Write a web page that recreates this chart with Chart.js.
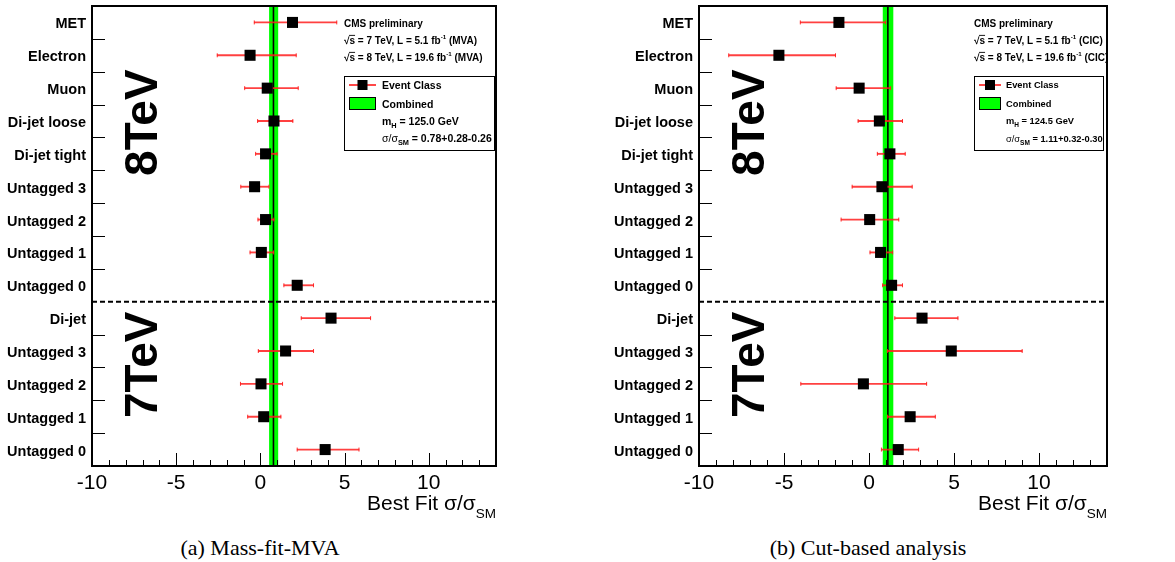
<!DOCTYPE html>
<html>
<head>
<meta charset="utf-8">
<script src="https://cdn.jsdelivr.net/npm/chart.js@4"></script>
<style>
body { margin: 0; background: #fff; width: 1175px; height: 562px; position: relative; overflow: hidden; }
.painel { position: absolute; top: 0; height: 522px; }
.legenda { position: absolute; top: 537px; font-family: "Liberation Serif"; font-size: 22px; line-height: 22px; text-align: center; color: #000; }
</style>
</head>
<body>
<div class="painel" style="left:0; width:500px"><canvas id="mva"></canvas></div>
<div class="painel" style="left:590px; width:522px"><canvas id="cic"></canvas></div>
<div class="legenda" style="left:110px; width:300px">(a) Mass-fit-MVA</div>
<div class="legenda" style="left:718px; width:300px">(b) Cut-based analysis</div>
<script>
// Dados
var categorias = ['MET', 'Electron', 'Muon', 'Di-jet loose', 'Di-jet tight', 'Untagged 3', 'Untagged 2', 'Untagged 1', 'Untagged 0',
                  'Di-jet', 'Untagged 3', 'Untagged 2', 'Untagged 1', 'Untagged 0'];
var xTicks = [-10, -5, 0, 5, 10];

// (a) Mass-fit-MVA
var mvaValor = [1.91, -0.61, 0.41, 0.81, 0.31, -0.34, 0.31, 0.06, 2.19, 4.20, 1.50, 0.04, 0.20, 3.85];
var mvaMin   = [-0.36, -2.56, -0.93, -0.16, -0.28, -1.16, -0.14, -0.61, 1.40, 2.43, -0.12, -1.18, -0.75, 2.19];
var mvaMax   = [4.54, 2.13, 2.25, 1.93, 0.99, 0.51, 0.81, 0.79, 3.16, 6.55, 3.16, 1.32, 1.22, 5.86];
var mvaComb  = [0.78, 0.28, 0.26];

// (b) Cut-based analysis
var cicValor = [-1.77, -5.30, -0.58, 0.61, 1.23, 0.76, 0.04, 0.68, 1.33, 3.12, 4.84, -0.33, 2.42, 1.72];
var cicMin   = [-4.04, -8.25, -1.93, -0.64, 0.49, -0.99, -1.64, 0.06, 0.80, 1.52, 1.08, -4.01, 1.09, 0.73];
var cicMax   = [0.98, -1.97, 1.27, 1.97, 2.13, 2.54, 1.75, 1.39, 1.97, 5.23, 9.01, 3.39, 3.90, 2.92];
var cicComb  = [1.11, 0.32, 0.30];

Chart.defaults.font.family = '"Liberation Sans", Arial, sans-serif';
Chart.defaults.color = '#000';

function linha(ctx, x1, y1, x2, y2) {
    ctx.beginPath();
    ctx.moveTo(x1, y1);
    ctx.lineTo(x2, y2);
    ctx.stroke();
}

// texto com sub/sobrescritos
function texto(ctx, x, y, partes, tam) {
    partes.forEach(function (pt) {
        var s = pt.s || 1;
        ctx.font = (pt.n ? '' : 'bold ') + (tam * s) + 'px "Liberation Sans"';
        ctx.fillText(pt.t, x, y + (pt.dy || 0) * tam);
        var w = ctx.measureText(pt.t).width;
        if (pt.barra) {
            ctx.lineWidth = 0.9;
            linha(ctx, x - 0.5, y - 0.82 * tam, x + w, y - 0.82 * tam);
        }
        x += w;
    });
    return x;
}

function moldura(p) {
    return {
        id: 'moldura',
        beforeDatasetsDraw: function (chart) {
            var ctx = chart.ctx, a = chart.chartArea, x = chart.scales.x;
            var c = p.comb;
            var x1 = x.getPixelForValue(c[0] - c[2]), x2 = x.getPixelForValue(c[0] + c[1]);
            ctx.save();
            ctx.fillStyle = '#00ff00';
            ctx.fillRect(x1, a.top, x2 - x1, a.bottom - a.top);
            ctx.strokeStyle = '#000';
            ctx.lineWidth = 1.6;
            var xc = x.getPixelForValue(c[0]);
            linha(ctx, xc, a.top, xc, a.bottom);
            ctx.restore();
        },
        afterDraw: function (chart) {
            var ctx = chart.ctx, a = chart.chartArea, x = chart.scales.x, y = chart.scales.y;
            ctx.save();
            ctx.strokeStyle = '#000';
            ctx.fillStyle = '#000';

            // linha tracejada 8TeV / 7TeV
            var yd = y.getPixelForValue(8.5);
            ctx.setLineDash([5, 3]);
            ctx.lineWidth = 2;
            linha(ctx, a.left, yd, a.right, yd);
            ctx.setLineDash([]);

            // ticks
            ctx.lineWidth = 1;
            for (var i = 0; i < categorias.length - 1; i++) {
                if (i === 8) continue;
                var yy = Math.round(y.getPixelForValue(i + 0.5)) + 0.5;
                linha(ctx, a.left, yy, a.left + 13, yy);
            }
            for (var v = -10; v <= 14; v++) {
                var xx = Math.round(x.getPixelForValue(v)) + 0.5;
                linha(ctx, xx, a.bottom, xx, a.bottom - (v % 5 === 0 ? 13 : 6));
            }

            ctx.lineWidth = 2;
            ctx.strokeRect(a.left, a.top, a.right - a.left, a.bottom - a.top);

            // 8TeV / 7TeV
            ctx.font = 'bold 46px "Liberation Sans"';
            ctx.textAlign = 'center';
            [['8TeV', 3.05], ['7TeV', 10.42]].forEach(function (e) {
                ctx.save();
                ctx.translate(a.left + 64.5, y.getPixelForValue(e[1]));
                ctx.rotate(-Math.PI / 2);
                ctx.fillText(e[0], 0, 0);
                ctx.restore();
            });
            ctx.textAlign = 'left';

            // cabecalho
            var hx = p.cab;
            texto(ctx, hx, 26.6, [{t: 'CMS preliminary'}], 10);
            texto(ctx, hx, 43.6, [{t: '√'}, {t: 's', barra: true}, {t: ' = 7 TeV, L = 5.1 fb'}, {t: '-1', s: 0.62, dy: -0.42}, {t: ' (' + p.tag + ')'}], 10);
            texto(ctx, hx, 60.6, [{t: '√'}, {t: 's', barra: true}, {t: ' = 8 TeV, L = 19.6 fb'}, {t: '-1', s: 0.62, dy: -0.42}, {t: ' (' + p.tag + ')'}], 10);

            // caixa da legenda
            var b = p.caixa;
            ctx.lineWidth = 1;
            ctx.strokeRect(b.x + 0.5, 76.5, b.w, 74);
            ctx.strokeStyle = 'rgba(255,40,40,0.85)';
            ctx.lineWidth = 2;
            linha(ctx, b.x1, 85, b.x2, 85);
            var mx = (b.x1 + b.x2) / 2;
            ctx.fillRect(mx - 5, 80, 10, 10);
            ctx.fillStyle = '#00ff00';
            ctx.fillRect(b.x1, 97, b.x2 - b.x1, 13);
            ctx.strokeStyle = '#000';
            ctx.lineWidth = 1;
            ctx.strokeRect(b.x1 + 0.5, 97.5, b.x2 - b.x1 - 1, 12);
            ctx.fillStyle = '#000';
            var ft = b.f, d = ft * 0.36;
            texto(ctx, b.tx, 85 + d, [{t: 'Event Class'}], ft);
            texto(ctx, b.tx, 104 + d, [{t: 'Combined'}], ft);
            texto(ctx, b.tx, 121 + d, [{t: 'm'}, {t: 'H', s: 0.7, dy: 0.3}, {t: ' = ' + p.massa + ' GeV'}], ft);
            texto(ctx, b.tx, 138.5 + d, [{t: 'σ/σ', n: true}, {t: 'SM', s: 0.7, dy: 0.3}, {t: ' = ' + p.comb[0].toFixed(2) + '+' + p.comb[1].toFixed(2) + '-' + p.comb[2].toFixed(2)}], ft);

            // titulo do eixo x
            ctx.font = '21px "Liberation Sans"';
            var w1 = ctx.measureText('Best Fit σ/σ').width;
            ctx.font = '13.5px "Liberation Sans"';
            var w2 = ctx.measureText('SM').width;
            texto(ctx, a.right - w1 - w2, a.bottom + 44, [{t: 'Best Fit σ/σ', n: true}, {t: 'SM', n: true, s: 13.5 / 21, dy: 8 / 21}], 21);

            ctx.restore();
        }
    };
}

function gerarChart(id, p) {
    var pontos = p.valor.map(function (v, i) { return {x: v, y: i}; });
    var barras = p.min.map(function (v, i) { return {x: [v, p.max[i]], y: i}; });
    var caps = p.min.map(function (v, i) { return {x: v, y: i}; })
        .concat(p.max.map(function (v, i) { return {x: v, y: i}; }));

    new Chart(document.getElementById(id), {
        type: 'scatter',
        data: {
            datasets: [{
                data: pontos,
                pointStyle: 'rect',
                radius: 7.8,
                backgroundColor: '#000',
                borderWidth: 0
            }, {
                type: 'bar',
                indexAxis: 'y',
                data: barras,
                barThickness: 1.2,
                backgroundColor: 'rgba(255,30,30,0.85)',
                borderWidth: 0
            }, {
                data: caps,
                pointStyle: 'line',
                rotation: 90,
                radius: 2,
                borderColor: 'rgba(255,30,30,0.9)',
                borderWidth: 1
            }]
        },
        options: {
            responsive: true,
            maintainAspectRatio: false,
            animation: false,
            events: [],
            layout: { autoPadding: false, padding: { top: 6, right: p.dir, left: 0, bottom: 0 } },
            plugins: { legend: { display: false }, tooltip: { enabled: false } },
            scales: {
                x: {
                    type: 'linear', min: -10, max: 14, offset: false,
                    grid: { display: false, drawTicks: false },
                    border: { display: false },
                    afterBuildTicks: function (s) { s.ticks = xTicks.map(function (v) { return {value: v}; }); },
                    afterFit: function (s) { s.height = 56; s.paddingLeft = 0; s.paddingRight = 0; },
                    ticks: { font: { size: 21 }, color: '#000', padding: 5, maxRotation: 0 }
                },
                y: {
                    type: 'linear', reverse: true, min: -0.5, max: 13.5, offset: false,
                    grid: { display: false, drawTicks: false },
                    border: { display: false },
                    afterBuildTicks: function (s) { s.ticks = categorias.map(function (c, i) { return {value: i}; }); },
                    afterFit: function (s) { s.width = p.yLarg; s.paddingTop = 0; s.paddingBottom = 0; },
                    ticks: {
                        callback: function (v) { return categorias[v]; },
                        font: { size: 14.5, weight: 'bold' }, color: '#000', padding: 6, autoSkip: false, labelOffset: 2
                    }
                }
            }
        },
        plugins: [moldura(p)]
    });
}

gerarChart('mva', {
    valor: mvaValor, min: mvaMin, max: mvaMax, comb: mvaComb, tag: 'MVA', massa: '125.0',
    yLarg: 92, dir: 4, cab: 344,
    caixa: { x: 344, w: 150, x1: 349, x2: 376, tx: 382, f: 10.5 }
});
gerarChart('cic', {
    valor: cicValor, min: cicMin, max: cicMax, comb: cicComb, tag: 'CIC', massa: '124.5',
    yLarg: 109, dir: 5, cab: 384,
    caixa: { x: 384, w: 129, x1: 389, x2: 411, tx: 416, f: 9.3 }
});
</script>
</body>
</html>
